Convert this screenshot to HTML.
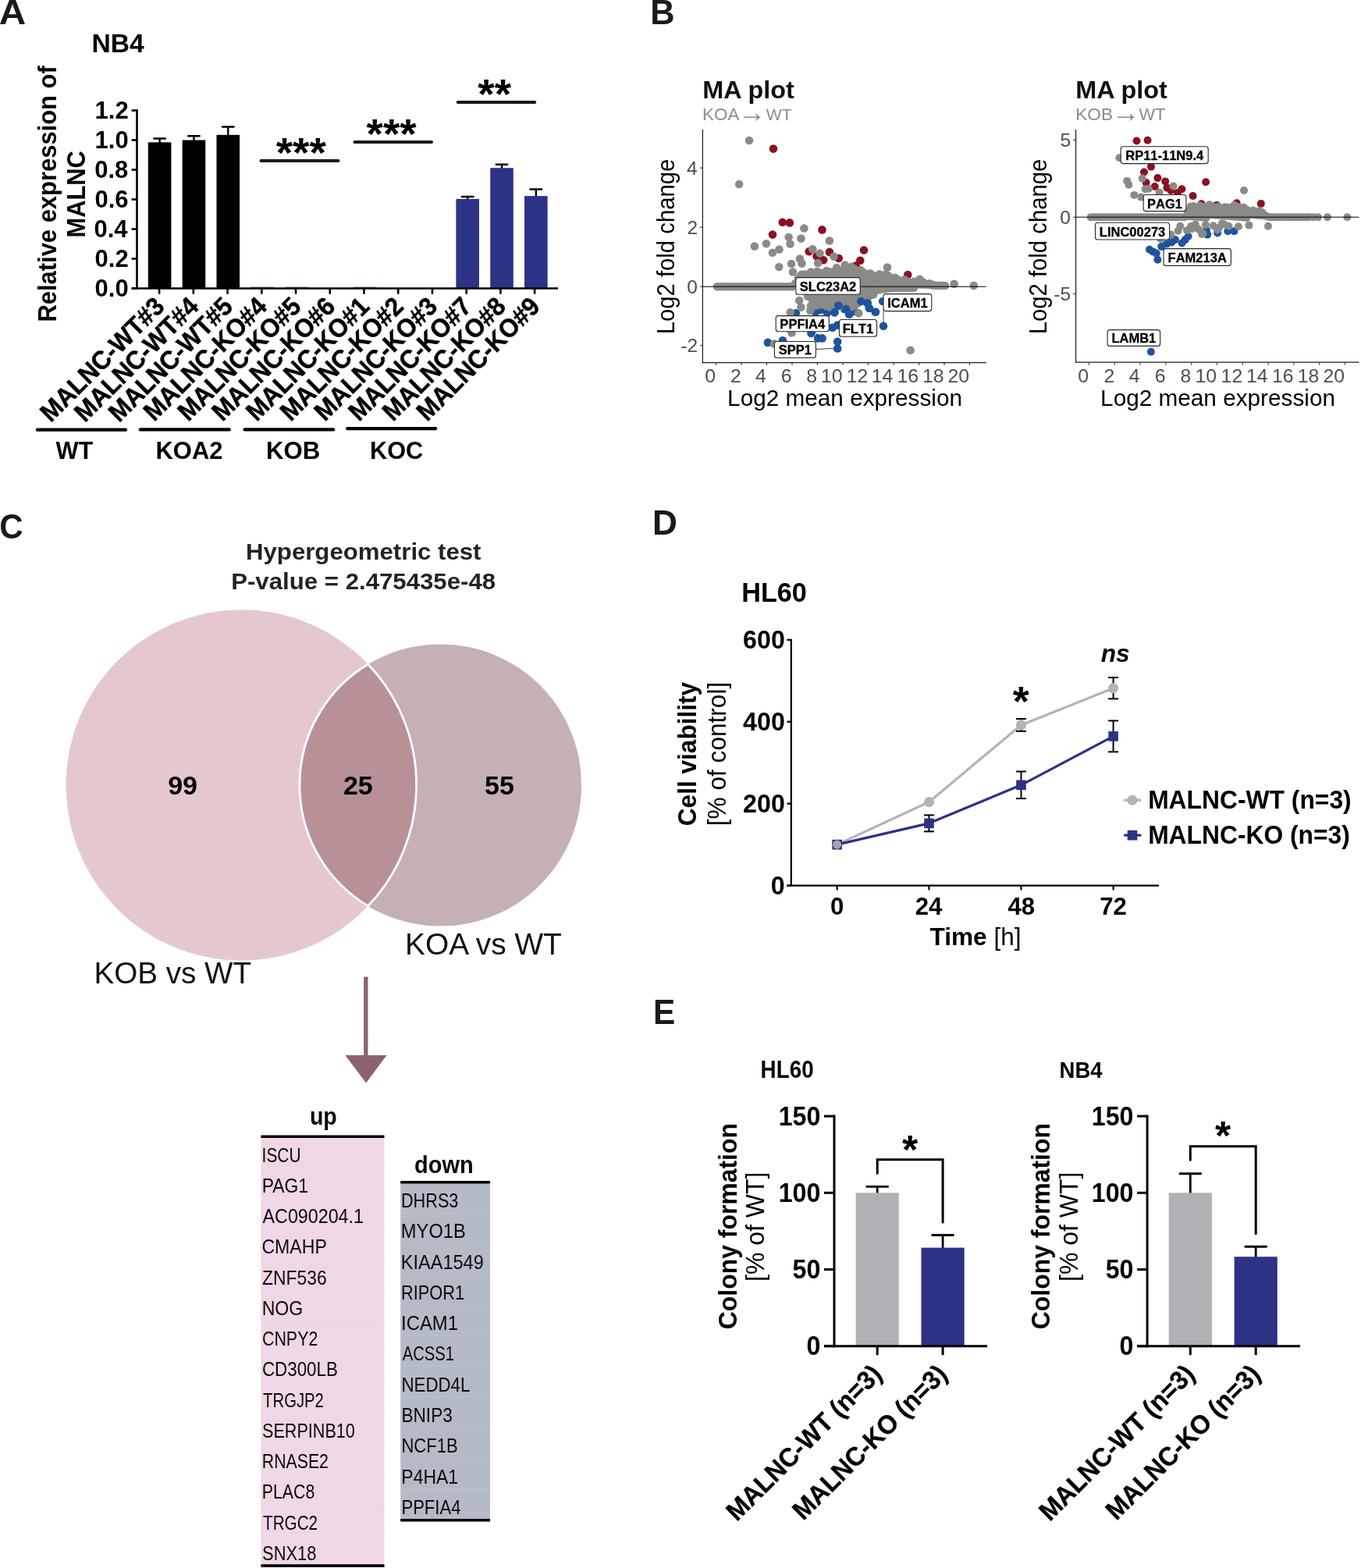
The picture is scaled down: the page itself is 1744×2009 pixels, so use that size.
<!DOCTYPE html>
<html lang="en">
<head>
<meta charset="utf-8">
<title>MALNC knockout figure</title>
<style>
html,body{margin:0;padding:0;background:#fff;}
body{width:1744px;height:2009px;overflow:hidden;}
svg{display:block;}
text{font-family:"Liberation Sans",sans-serif;}
</style>
</head>
<body>
<svg width="1744" height="2009" viewBox="0 0 1744 2009">
<rect x="0" y="0" width="1744" height="2009" fill="#ffffff"/>
<g id="panelA">
<text transform="translate(-1.19 31.1) scale(1.085 1.000)" font-size="44" font-weight="bold" fill="#1a1a1a">A</text>
<text transform="translate(117.41 66.6) scale(1.000 1.010)" font-size="33.73" font-weight="bold" fill="#000">NB4</text>
<line x1="175.5" y1="140.2" x2="175.5" y2="370.8" stroke="#000" stroke-width="2.6"/>
<line x1="168.6" y1="369.5" x2="175.5" y2="369.5" stroke="#000" stroke-width="2.6"/>
<text transform="translate(121.55 379.5) scale(1.000 1.040)" font-size="31" font-weight="bold" fill="#000">0.0</text>
<line x1="168.6" y1="331.5" x2="175.5" y2="331.5" stroke="#000" stroke-width="2.6"/>
<text transform="translate(121.55 341.5) scale(1.000 1.040)" font-size="31" font-weight="bold" fill="#000">0.2</text>
<line x1="168.6" y1="293.5" x2="175.5" y2="293.5" stroke="#000" stroke-width="2.6"/>
<text transform="translate(120.47 303.5) scale(1.000 1.040)" font-size="31" font-weight="bold" fill="#000">0.4</text>
<line x1="168.6" y1="255.5" x2="175.5" y2="255.5" stroke="#000" stroke-width="2.6"/>
<text transform="translate(121.4 265.5) scale(1.000 1.040)" font-size="31" font-weight="bold" fill="#000">0.6</text>
<line x1="168.6" y1="217.5" x2="175.5" y2="217.5" stroke="#000" stroke-width="2.6"/>
<text transform="translate(121.24 227.5) scale(1.000 1.040)" font-size="31" font-weight="bold" fill="#000">0.8</text>
<line x1="168.6" y1="179.5" x2="175.5" y2="179.5" stroke="#000" stroke-width="2.6"/>
<text transform="translate(121.55 189.5) scale(1.000 1.040)" font-size="31" font-weight="bold" fill="#000">1.0</text>
<line x1="168.6" y1="141.5" x2="175.5" y2="141.5" stroke="#000" stroke-width="2.6"/>
<text transform="translate(121.55 151.5) scale(1.000 1.040)" font-size="31" font-weight="bold" fill="#000">1.2</text>
<line x1="204.6" y1="177.6" x2="204.6" y2="183.35" stroke="#000" stroke-width="2.4"/>
<line x1="197.4" y1="177.6" x2="211.8" y2="177.6" stroke="#000" stroke-width="2.5" stroke-linecap="round"/>
<rect x="189.8" y="182.35" width="29.6" height="187.15" fill="#000"/>
<line x1="248.44" y1="174.18" x2="248.44" y2="180.5" stroke="#000" stroke-width="2.4"/>
<line x1="241.24" y1="174.18" x2="255.64" y2="174.18" stroke="#000" stroke-width="2.5" stroke-linecap="round"/>
<rect x="233.64" y="179.5" width="29.6" height="190" fill="#000"/>
<line x1="292.28" y1="162.4" x2="292.28" y2="173.85" stroke="#000" stroke-width="2.4"/>
<line x1="285.08" y1="162.4" x2="299.48" y2="162.4" stroke="#000" stroke-width="2.5" stroke-linecap="round"/>
<rect x="277.48" y="172.85" width="29.6" height="196.65" fill="#000"/>
<rect x="321.32" y="367.6" width="29.6" height="1" fill="#2d3287" opacity="0.8"/>
<rect x="365.16" y="367.6" width="29.6" height="1" fill="#2d3287" opacity="0.8"/>
<rect x="452.84" y="367.6" width="29.6" height="1" fill="#2d3287" opacity="0.8"/>
<line x1="599.16" y1="251.89" x2="599.16" y2="255.93" stroke="#000" stroke-width="2.4"/>
<line x1="591.96" y1="251.89" x2="606.36" y2="251.89" stroke="#000" stroke-width="2.5" stroke-linecap="round"/>
<rect x="584.36" y="254.93" width="29.6" height="114.57" fill="#2d3287"/>
<line x1="643" y1="210.66" x2="643" y2="216.22" stroke="#000" stroke-width="2.4"/>
<line x1="635.8" y1="210.66" x2="650.2" y2="210.66" stroke="#000" stroke-width="2.5" stroke-linecap="round"/>
<rect x="628.2" y="215.22" width="29.6" height="154.28" fill="#2d3287"/>
<line x1="686.84" y1="242.39" x2="686.84" y2="252.13" stroke="#000" stroke-width="2.4"/>
<line x1="679.64" y1="242.39" x2="694.04" y2="242.39" stroke="#000" stroke-width="2.5" stroke-linecap="round"/>
<rect x="672.04" y="251.13" width="29.6" height="118.37" fill="#2d3287"/>
<line x1="204.1" y1="369.5" x2="204.1" y2="376.7" stroke="#000" stroke-width="2.6"/>
<line x1="247.83" y1="369.5" x2="247.83" y2="376.7" stroke="#000" stroke-width="2.6"/>
<line x1="291.56" y1="369.5" x2="291.56" y2="376.7" stroke="#000" stroke-width="2.6"/>
<line x1="335.29" y1="369.5" x2="335.29" y2="376.7" stroke="#000" stroke-width="2.6"/>
<line x1="379.02" y1="369.5" x2="379.02" y2="376.7" stroke="#000" stroke-width="2.6"/>
<line x1="422.75" y1="369.5" x2="422.75" y2="376.7" stroke="#000" stroke-width="2.6"/>
<line x1="466.48" y1="369.5" x2="466.48" y2="376.7" stroke="#000" stroke-width="2.6"/>
<line x1="510.21" y1="369.5" x2="510.21" y2="376.7" stroke="#000" stroke-width="2.6"/>
<line x1="553.94" y1="369.5" x2="553.94" y2="376.7" stroke="#000" stroke-width="2.6"/>
<line x1="597.67" y1="369.5" x2="597.67" y2="376.7" stroke="#000" stroke-width="2.6"/>
<line x1="641.4" y1="369.5" x2="641.4" y2="376.7" stroke="#000" stroke-width="2.6"/>
<line x1="685.13" y1="369.5" x2="685.13" y2="376.7" stroke="#000" stroke-width="2.6"/>
<line x1="168.6" y1="369.5" x2="715" y2="369.5" stroke="#000" stroke-width="2.6"/>
<line x1="334.5" y1="206" x2="433.5" y2="206" stroke="#1a1a1a" stroke-width="4" stroke-linecap="round"/>
<text transform="translate(353.72 214) scale(1.000 0.985)" font-size="55" font-weight="bold" fill="#000">***</text>
<line x1="454.5" y1="182.1" x2="553" y2="182.1" stroke="#1a1a1a" stroke-width="4" stroke-linecap="round"/>
<text transform="translate(469.57 190.1) scale(1.000 0.985)" font-size="55" font-weight="bold" fill="#000">***</text>
<line x1="586.7" y1="131.1" x2="685.3" y2="131.1" stroke="#1a1a1a" stroke-width="4" stroke-linecap="round"/>
<text transform="translate(612.25 139.1) scale(1.000 0.985)" font-size="55" font-weight="bold" fill="#000">**</text>
<text transform="translate(212.7 394.6) rotate(-45) scale(1.000 1.050)" font-size="31.6" font-weight="bold" text-anchor="end" fill="#000" stroke="#000" stroke-width="0.45">MALNC-WT#3</text>
<text transform="translate(256.43 394.6) rotate(-45) scale(1.000 1.050)" font-size="31.6" font-weight="bold" text-anchor="end" fill="#000" stroke="#000" stroke-width="0.45">MALNC-WT#4</text>
<text transform="translate(300.16 394.6) rotate(-45) scale(1.000 1.050)" font-size="31.6" font-weight="bold" text-anchor="end" fill="#000" stroke="#000" stroke-width="0.45">MALNC-WT#5</text>
<text transform="translate(343.89 394.6) rotate(-45) scale(1.000 1.050)" font-size="31.6" font-weight="bold" text-anchor="end" fill="#000" stroke="#000" stroke-width="0.45">MALNC-KO#4</text>
<text transform="translate(387.62 394.6) rotate(-45) scale(1.000 1.050)" font-size="31.6" font-weight="bold" text-anchor="end" fill="#000" stroke="#000" stroke-width="0.45">MALNC-KO#5</text>
<text transform="translate(431.35 394.6) rotate(-45) scale(1.000 1.050)" font-size="31.6" font-weight="bold" text-anchor="end" fill="#000" stroke="#000" stroke-width="0.45">MALNC-KO#6</text>
<text transform="translate(475.08 394.6) rotate(-45) scale(1.000 1.050)" font-size="31.6" font-weight="bold" text-anchor="end" fill="#000" stroke="#000" stroke-width="0.45">MALNC-KO#1</text>
<text transform="translate(518.81 394.6) rotate(-45) scale(1.000 1.050)" font-size="31.6" font-weight="bold" text-anchor="end" fill="#000" stroke="#000" stroke-width="0.45">MALNC-KO#2</text>
<text transform="translate(562.54 394.6) rotate(-45) scale(1.000 1.050)" font-size="31.6" font-weight="bold" text-anchor="end" fill="#000" stroke="#000" stroke-width="0.45">MALNC-KO#3</text>
<text transform="translate(606.27 394.6) rotate(-45) scale(1.000 1.050)" font-size="31.6" font-weight="bold" text-anchor="end" fill="#000" stroke="#000" stroke-width="0.45">MALNC-KO#7</text>
<text transform="translate(650 394.6) rotate(-45) scale(1.000 1.050)" font-size="31.6" font-weight="bold" text-anchor="end" fill="#000" stroke="#000" stroke-width="0.45">MALNC-KO#8</text>
<text transform="translate(693.73 394.6) rotate(-45) scale(1.000 1.050)" font-size="31.6" font-weight="bold" text-anchor="end" fill="#000" stroke="#000" stroke-width="0.45">MALNC-KO#9</text>
<line x1="47.8" y1="550.7" x2="161" y2="550.7" stroke="#000" stroke-width="4.2" stroke-linecap="round"/>
<line x1="179.8" y1="550.4" x2="293.8" y2="550.4" stroke="#000" stroke-width="4.2" stroke-linecap="round"/>
<line x1="313.5" y1="550.4" x2="427.2" y2="550.4" stroke="#000" stroke-width="4.2" stroke-linecap="round"/>
<line x1="445" y1="549.1" x2="558.2" y2="549.1" stroke="#000" stroke-width="4.2" stroke-linecap="round"/>
<text transform="translate(71.5 587.6) scale(1.000 1.035)" font-size="30.74" font-weight="bold" fill="#000">WT</text>
<text transform="translate(199.49 587.6) scale(1.000 1.035)" font-size="30.97" font-weight="bold" fill="#000">KOA2</text>
<text transform="translate(340.97 587.6) scale(1.000 1.035)" font-size="31.18" font-weight="bold" fill="#000">KOB</text>
<text transform="translate(474 587.6) scale(1.000 1.035)" font-size="30.7" font-weight="bold" fill="#000">KOC</text>
<text transform="translate(71.6 412.61) rotate(-90) scale(1.000 1.050)" font-size="30.94" font-weight="bold" fill="#000">Relative expression of</text>
<text transform="translate(108.6 304.5) rotate(-90) scale(1.000 1.090)" font-size="30.82" font-weight="bold" fill="#000">MALNC</text>
</g>
<g id="panelB">
<text transform="translate(833.3 31.05) scale(0.985 1.000)" font-size="44" font-weight="bold" fill="#1a1a1a">B</text>
<text transform="translate(900.19 126) scale(1.000 0.950)" font-size="32.42" font-weight="bold" fill="#111">MA plot</text>
<text transform="translate(900.11 154.3) scale(1.000 0.980)" font-size="22.41" fill="#8c8c8c">KOA</text>
<text transform="translate(945.72 156.2)" font-size="36" fill="#8c8c8c">→</text>
<text transform="translate(981.69 154.3) scale(1.000 0.980)" font-size="21.24" fill="#8c8c8c">WT</text>
<line x1="900.4" y1="166" x2="900.4" y2="465.2" stroke="#1a1a1a" stroke-width="1.2"/>
<line x1="899.8" y1="464.6" x2="1263.5" y2="464.6" stroke="#1a1a1a" stroke-width="1.2"/>
<line x1="917.5" y1="464.6" x2="917.5" y2="468" stroke="#333" stroke-width="1.1"/>
<text transform="translate(903.2 490)" font-size="24.8" fill="#4d4d4d">0</text>
<line x1="950" y1="464.6" x2="950" y2="468" stroke="#333" stroke-width="1.1"/>
<text transform="translate(936.08 490)" font-size="24.8" fill="#4d4d4d">2</text>
<line x1="982.5" y1="464.6" x2="982.5" y2="468" stroke="#333" stroke-width="1.1"/>
<text transform="translate(968.08 490)" font-size="24.8" fill="#4d4d4d">4</text>
<line x1="1015" y1="464.6" x2="1015" y2="468" stroke="#333" stroke-width="1.1"/>
<text transform="translate(1000.83 490)" font-size="24.8" fill="#4d4d4d">6</text>
<line x1="1047.5" y1="464.6" x2="1047.5" y2="468" stroke="#333" stroke-width="1.1"/>
<text transform="translate(1033.33 490)" font-size="24.8" fill="#4d4d4d">8</text>
<line x1="1080" y1="464.6" x2="1080" y2="468" stroke="#333" stroke-width="1.1"/>
<text transform="translate(1051.94 490)" font-size="24.8" fill="#4d4d4d">10</text>
<line x1="1112.5" y1="464.6" x2="1112.5" y2="468" stroke="#333" stroke-width="1.1"/>
<text transform="translate(1084.81 490)" font-size="24.8" fill="#4d4d4d">12</text>
<line x1="1145" y1="464.6" x2="1145" y2="468" stroke="#333" stroke-width="1.1"/>
<text transform="translate(1116.82 490)" font-size="24.8" fill="#4d4d4d">14</text>
<line x1="1177.5" y1="464.6" x2="1177.5" y2="468" stroke="#333" stroke-width="1.1"/>
<text transform="translate(1149.56 490)" font-size="24.8" fill="#4d4d4d">16</text>
<line x1="1210" y1="464.6" x2="1210" y2="468" stroke="#333" stroke-width="1.1"/>
<text transform="translate(1182.06 490)" font-size="24.8" fill="#4d4d4d">18</text>
<line x1="1242.5" y1="464.6" x2="1242.5" y2="468" stroke="#333" stroke-width="1.1"/>
<text transform="translate(1214.44 490)" font-size="24.8" fill="#4d4d4d">20</text>
<line x1="897" y1="215.2" x2="900.4" y2="215.2" stroke="#333" stroke-width="1.1"/>
<text transform="translate(880.04 223.8)" font-size="24.5" fill="#4d4d4d">4</text>
<line x1="897" y1="291.2" x2="900.4" y2="291.2" stroke="#333" stroke-width="1.1"/>
<text transform="translate(880.53 299.8)" font-size="24.5" fill="#4d4d4d">2</text>
<line x1="897" y1="367.2" x2="900.4" y2="367.2" stroke="#333" stroke-width="1.1"/>
<text transform="translate(880.16 375.8)" font-size="24.5" fill="#4d4d4d">0</text>
<line x1="897" y1="442.6" x2="900.4" y2="442.6" stroke="#333" stroke-width="1.1"/>
<text transform="translate(872.32 451.2)" font-size="24.5" fill="#4d4d4d">-2</text>
<text transform="translate(932.12 520)" font-size="29.74" fill="#000">Log2 mean expression</text>
<text transform="translate(863.8 428.34) rotate(-90) scale(1.000 1.040)" font-size="29.29" fill="#000">Log2 fold change</text>
<circle cx="991" cy="190.6" r="5.3" fill="#8b1221"/>
<circle cx="1002.75" cy="284.75" r="5.3" fill="#8b1221"/>
<circle cx="1011.9" cy="285.4" r="5.3" fill="#8b1221"/>
<circle cx="990" cy="300.6" r="5.3" fill="#8b1221"/>
<circle cx="1053.5" cy="294.4" r="5.3" fill="#8b1221"/>
<circle cx="1036.7" cy="322.3" r="5.3" fill="#8b1221"/>
<circle cx="1046.5" cy="328.3" r="5.3" fill="#8b1221"/>
<circle cx="1055.2" cy="333.2" r="5.3" fill="#8b1221"/>
<circle cx="1062.9" cy="322.9" r="5.3" fill="#8b1221"/>
<circle cx="1074.8" cy="331" r="5.3" fill="#8b1221"/>
<circle cx="1107" cy="320.5" r="5.3" fill="#8b1221"/>
<circle cx="1102.3" cy="333.8" r="5.3" fill="#8b1221"/>
<circle cx="1096.5" cy="340.5" r="5.3" fill="#8b1221"/>
<circle cx="1163.3" cy="352.1" r="5.3" fill="#8b1221"/>
<circle cx="1090" cy="345" r="5.3" fill="#8b1221"/>
<circle cx="1084" cy="347" r="5.3" fill="#8b1221"/>
<circle cx="1019.8" cy="401.3" r="5.3" fill="#1f539e"/>
<circle cx="1051.4" cy="397" r="5.3" fill="#1f539e"/>
<circle cx="1053.6" cy="390.4" r="5.3" fill="#1f539e"/>
<circle cx="1069.4" cy="400.2" r="5.3" fill="#1f539e"/>
<circle cx="1074.3" cy="390.4" r="5.3" fill="#1f539e"/>
<circle cx="1084" cy="395.9" r="5.3" fill="#1f539e"/>
<circle cx="1066.7" cy="419.8" r="5.3" fill="#1f539e"/>
<circle cx="1073.2" cy="416.6" r="5.3" fill="#1f539e"/>
<circle cx="1039.4" cy="426.9" r="5.3" fill="#1f539e"/>
<circle cx="1048.1" cy="433.4" r="5.3" fill="#1f539e"/>
<circle cx="1053.6" cy="433.4" r="5.3" fill="#1f539e"/>
<circle cx="1073.2" cy="437.8" r="5.3" fill="#1f539e"/>
<circle cx="1073.2" cy="446.5" r="5.3" fill="#1f539e"/>
<circle cx="983.9" cy="438.9" r="5.3" fill="#1f539e"/>
<circle cx="1003" cy="436.2" r="5.3" fill="#1f539e"/>
<circle cx="1103.4" cy="386" r="5.3" fill="#1f539e"/>
<circle cx="1111.6" cy="388.2" r="5.3" fill="#1f539e"/>
<circle cx="1113.8" cy="394.8" r="5.3" fill="#1f539e"/>
<circle cx="1121.9" cy="399.7" r="5.3" fill="#1f539e"/>
<circle cx="1131.2" cy="386" r="5.3" fill="#1f539e"/>
<circle cx="1132" cy="417.7" r="5.3" fill="#1f539e"/>
<circle cx="1088.2" cy="402.4" r="5.3" fill="#1f539e"/>
<circle cx="1082" cy="396" r="5.3" fill="#1f539e"/>
<circle cx="1095" cy="399" r="5.3" fill="#1f539e"/>
<circle cx="1060" cy="401" r="5.3" fill="#1f539e"/>
<circle cx="1045" cy="400" r="5.3" fill="#1f539e"/>
<polygon points="919,367.1 1017,367.1 1022,354.3 1030,350.3 1040,347.8 1050,348.8 1060,347.3 1070,346.3 1080,343.3 1090,342.3 1100,345.3 1110,349.3 1120,351.3 1130,350.8 1140,353.3 1150,357.3 1160,358.3 1170,360.3 1180,359.8 1190,363.3 1200,365.3 1213,366.8 1213,365.2 1200,366.2 1180,367.2 1160,368.7 1150,369.7 1140,371.2 1130,373.2 1120,376.2 1110,380.2 1103,385.7 1097,391.7 1090,395.2 1080,395.7 1070,394.7 1064,393.2 1058,391.2 1052,390.2 1045,392.7 1038,393.7 1034,377.7 1030,368.2 1017,367.4 919,367.4" fill="#8a8a86"/>
<circle cx="919" cy="367.25" r="5.3" fill="#8a8a86"/>
<circle cx="923" cy="367.25" r="5.3" fill="#8a8a86"/>
<circle cx="927" cy="367.25" r="5.3" fill="#8a8a86"/>
<circle cx="931" cy="367.25" r="5.3" fill="#8a8a86"/>
<circle cx="935" cy="367.25" r="5.3" fill="#8a8a86"/>
<circle cx="939" cy="367.25" r="5.3" fill="#8a8a86"/>
<circle cx="943" cy="367.25" r="5.3" fill="#8a8a86"/>
<circle cx="947" cy="367.25" r="5.3" fill="#8a8a86"/>
<circle cx="951" cy="367.25" r="5.3" fill="#8a8a86"/>
<circle cx="955" cy="367.25" r="5.3" fill="#8a8a86"/>
<circle cx="959" cy="367.25" r="5.3" fill="#8a8a86"/>
<circle cx="963" cy="367.25" r="5.3" fill="#8a8a86"/>
<circle cx="967" cy="367.25" r="5.3" fill="#8a8a86"/>
<circle cx="971" cy="367.25" r="5.3" fill="#8a8a86"/>
<circle cx="975" cy="367.25" r="5.3" fill="#8a8a86"/>
<circle cx="979" cy="367.25" r="5.3" fill="#8a8a86"/>
<circle cx="983" cy="367.25" r="5.3" fill="#8a8a86"/>
<circle cx="987" cy="367.25" r="5.3" fill="#8a8a86"/>
<circle cx="991" cy="367.25" r="5.3" fill="#8a8a86"/>
<circle cx="995" cy="367.25" r="5.3" fill="#8a8a86"/>
<circle cx="999" cy="367.25" r="5.3" fill="#8a8a86"/>
<circle cx="1003" cy="367.25" r="5.3" fill="#8a8a86"/>
<circle cx="1007" cy="367.25" r="5.3" fill="#8a8a86"/>
<circle cx="1011" cy="367.25" r="5.3" fill="#8a8a86"/>
<circle cx="1015" cy="367.25" r="5.3" fill="#8a8a86"/>
<circle cx="1019" cy="363.18" r="5.3" fill="#8a8a86"/>
<circle cx="1019" cy="364.28" r="5.3" fill="#8a8a86"/>
<circle cx="1023" cy="356.52" r="5.3" fill="#8a8a86"/>
<circle cx="1023" cy="364.87" r="5.3" fill="#8a8a86"/>
<circle cx="1027" cy="351.86" r="5.3" fill="#8a8a86"/>
<circle cx="1027" cy="365.46" r="5.3" fill="#8a8a86"/>
<circle cx="1031" cy="351.63" r="5.3" fill="#8a8a86"/>
<circle cx="1031" cy="368.36" r="5.3" fill="#8a8a86"/>
<circle cx="1035" cy="352.15" r="5.3" fill="#8a8a86"/>
<circle cx="1035" cy="379.82" r="5.3" fill="#8a8a86"/>
<circle cx="1039" cy="348.49" r="5.3" fill="#8a8a86"/>
<circle cx="1039" cy="392.02" r="5.3" fill="#8a8a86"/>
<circle cx="1043" cy="350.06" r="5.3" fill="#8a8a86"/>
<circle cx="1043" cy="391.79" r="5.3" fill="#8a8a86"/>
<circle cx="1047" cy="347.8" r="5.3" fill="#8a8a86"/>
<circle cx="1047" cy="391.13" r="5.3" fill="#8a8a86"/>
<circle cx="1051" cy="349.47" r="5.3" fill="#8a8a86"/>
<circle cx="1051" cy="390.04" r="5.3" fill="#8a8a86"/>
<circle cx="1055" cy="350.39" r="5.3" fill="#8a8a86"/>
<circle cx="1055" cy="390.52" r="5.3" fill="#8a8a86"/>
<circle cx="1059" cy="347.13" r="5.3" fill="#8a8a86"/>
<circle cx="1059" cy="391.69" r="5.3" fill="#8a8a86"/>
<circle cx="1063" cy="348.2" r="5.3" fill="#8a8a86"/>
<circle cx="1063" cy="393.37" r="5.3" fill="#8a8a86"/>
<circle cx="1067" cy="349.32" r="5.3" fill="#8a8a86"/>
<circle cx="1067" cy="394.79" r="5.3" fill="#8a8a86"/>
<circle cx="1071" cy="346.06" r="5.3" fill="#8a8a86"/>
<circle cx="1071" cy="391.56" r="5.3" fill="#8a8a86"/>
<circle cx="1075" cy="346.38" r="5.3" fill="#8a8a86"/>
<circle cx="1075" cy="392.3" r="5.3" fill="#8a8a86"/>
<circle cx="1079" cy="346.7" r="5.3" fill="#8a8a86"/>
<circle cx="1079" cy="393.04" r="5.3" fill="#8a8a86"/>
<circle cx="1083" cy="343.44" r="5.3" fill="#8a8a86"/>
<circle cx="1083" cy="393.33" r="5.3" fill="#8a8a86"/>
<circle cx="1087" cy="344.56" r="5.3" fill="#8a8a86"/>
<circle cx="1087" cy="393.47" r="5.3" fill="#8a8a86"/>
<circle cx="1091" cy="341.9" r="5.3" fill="#8a8a86"/>
<circle cx="1091" cy="393.16" r="5.3" fill="#8a8a86"/>
<circle cx="1095" cy="344.62" r="5.3" fill="#8a8a86"/>
<circle cx="1095" cy="391.5" r="5.3" fill="#8a8a86"/>
<circle cx="1099" cy="347.34" r="5.3" fill="#8a8a86"/>
<circle cx="1099" cy="388.84" r="5.3" fill="#8a8a86"/>
<circle cx="1103" cy="346.18" r="5.3" fill="#8a8a86"/>
<circle cx="1103" cy="385.18" r="5.3" fill="#8a8a86"/>
<circle cx="1107" cy="349.3" r="5.3" fill="#8a8a86"/>
<circle cx="1107" cy="382.38" r="5.3" fill="#8a8a86"/>
<circle cx="1111" cy="352.22" r="5.3" fill="#8a8a86"/>
<circle cx="1111" cy="379.96" r="5.3" fill="#8a8a86"/>
<circle cx="1115" cy="350.36" r="5.3" fill="#8a8a86"/>
<circle cx="1115" cy="378.7" r="5.3" fill="#8a8a86"/>
<circle cx="1119" cy="352.68" r="5.3" fill="#8a8a86"/>
<circle cx="1119" cy="377.44" r="5.3" fill="#8a8a86"/>
<circle cx="1123" cy="354.25" r="5.3" fill="#8a8a86"/>
<circle cx="1123" cy="372.06" r="5.3" fill="#8a8a86"/>
<circle cx="1127" cy="351.39" r="5.3" fill="#8a8a86"/>
<circle cx="1127" cy="371.2" r="5.3" fill="#8a8a86"/>
<circle cx="1131" cy="353.01" r="5.3" fill="#8a8a86"/>
<circle cx="1131" cy="370.44" r="5.3" fill="#8a8a86"/>
<circle cx="1135" cy="351.35" r="5.3" fill="#8a8a86"/>
<circle cx="1135" cy="369.98" r="5.3" fill="#8a8a86"/>
<circle cx="1139" cy="353.87" r="5.3" fill="#8a8a86"/>
<circle cx="1139" cy="369.52" r="5.3" fill="#8a8a86"/>
<circle cx="1143" cy="356.84" r="5.3" fill="#8a8a86"/>
<circle cx="1143" cy="369.21" r="5.3" fill="#8a8a86"/>
<circle cx="1147" cy="355.78" r="5.3" fill="#8a8a86"/>
<circle cx="1147" cy="368.95" r="5.3" fill="#8a8a86"/>
<circle cx="1151" cy="358.6" r="5.3" fill="#8a8a86"/>
<circle cx="1151" cy="368.74" r="5.3" fill="#8a8a86"/>
<circle cx="1155" cy="360.52" r="5.3" fill="#8a8a86"/>
<circle cx="1155" cy="368.68" r="5.3" fill="#8a8a86"/>
<circle cx="1159" cy="358.26" r="5.3" fill="#8a8a86"/>
<circle cx="1159" cy="368.62" r="5.3" fill="#8a8a86"/>
<circle cx="1163" cy="360.48" r="5.3" fill="#8a8a86"/>
<circle cx="1163" cy="368.63" r="5.3" fill="#8a8a86"/>
<circle cx="1167" cy="362.8" r="5.3" fill="#8a8a86"/>
<circle cx="1167" cy="368.68" r="5.3" fill="#8a8a86"/>
<circle cx="1171" cy="360.69" r="5.3" fill="#8a8a86"/>
<circle cx="1171" cy="368.72" r="5.3" fill="#8a8a86"/>
<circle cx="1175" cy="362.01" r="5.3" fill="#8a8a86"/>
<circle cx="1175" cy="364.33" r="5.3" fill="#8a8a86"/>
<circle cx="1179" cy="359.15" r="5.3" fill="#8a8a86"/>
<circle cx="1179" cy="364.38" r="5.3" fill="#8a8a86"/>
<circle cx="1183" cy="361.67" r="5.3" fill="#8a8a86"/>
<circle cx="1183" cy="364.49" r="5.3" fill="#8a8a86"/>
<circle cx="1187" cy="364.59" r="5.3" fill="#8a8a86"/>
<circle cx="1187" cy="364.63" r="5.3" fill="#8a8a86"/>
<circle cx="1191" cy="363.18" r="5.3" fill="#8a8a86"/>
<circle cx="1191" cy="364.77" r="5.3" fill="#8a8a86"/>
<circle cx="1195" cy="365.5" r="5.3" fill="#8a8a86"/>
<circle cx="1195" cy="364.91" r="5.3" fill="#8a8a86"/>
<circle cx="1199" cy="365.68" r="5.3" fill="#8a8a86"/>
<circle cx="1203" cy="365.81" r="5.3" fill="#8a8a86"/>
<circle cx="1207" cy="365.88" r="5.3" fill="#8a8a86"/>
<circle cx="1211" cy="365.96" r="5.3" fill="#8a8a86"/>
<circle cx="1103.4" cy="386" r="5.3" fill="#1f539e"/>
<circle cx="1111.6" cy="388.2" r="5.3" fill="#1f539e"/>
<circle cx="1113.8" cy="394.8" r="5.3" fill="#1f539e"/>
<circle cx="1121.9" cy="399.7" r="5.3" fill="#1f539e"/>
<circle cx="1069.4" cy="400.2" r="5.3" fill="#1f539e"/>
<circle cx="1084" cy="395.9" r="5.3" fill="#1f539e"/>
<circle cx="1088.2" cy="402.4" r="5.3" fill="#1f539e"/>
<circle cx="1074.3" cy="391.5" r="5.3" fill="#1f539e"/>
<circle cx="960" cy="180" r="5.3" fill="#8a8a86"/>
<circle cx="947.1" cy="236" r="5.3" fill="#8a8a86"/>
<circle cx="1030.4" cy="292.5" r="5.3" fill="#8a8a86"/>
<circle cx="1010.6" cy="304" r="5.3" fill="#8a8a86"/>
<circle cx="1012.5" cy="312.5" r="5.3" fill="#8a8a86"/>
<circle cx="1026.5" cy="305.6" r="5.3" fill="#8a8a86"/>
<circle cx="1062.9" cy="308.5" r="5.3" fill="#8a8a86"/>
<circle cx="966.9" cy="315.6" r="5.3" fill="#8a8a86"/>
<circle cx="981.9" cy="312.25" r="5.3" fill="#8a8a86"/>
<circle cx="998.5" cy="319.6" r="5.3" fill="#8a8a86"/>
<circle cx="990" cy="323.75" r="5.3" fill="#8a8a86"/>
<circle cx="1041.25" cy="319.2" r="5.3" fill="#8a8a86"/>
<circle cx="1050.6" cy="324.6" r="5.3" fill="#8a8a86"/>
<circle cx="1025" cy="331.5" r="5.3" fill="#8a8a86"/>
<circle cx="1068.5" cy="328.8" r="5.3" fill="#8a8a86"/>
<circle cx="1014.1" cy="338" r="5.3" fill="#8a8a86"/>
<circle cx="1048.1" cy="337" r="5.3" fill="#8a8a86"/>
<circle cx="998.3" cy="342" r="5.3" fill="#8a8a86"/>
<circle cx="1082.8" cy="339.5" r="5.3" fill="#8a8a86"/>
<circle cx="1027.5" cy="337.6" r="5.3" fill="#8a8a86"/>
<circle cx="1016" cy="348.5" r="5.3" fill="#8a8a86"/>
<circle cx="1072.1" cy="343" r="5.3" fill="#8a8a86"/>
<circle cx="1137" cy="342.5" r="5.3" fill="#8a8a86"/>
<circle cx="1178.6" cy="357.7" r="5.3" fill="#8a8a86"/>
<circle cx="1222.7" cy="363.7" r="5.3" fill="#8a8a86"/>
<circle cx="1247.8" cy="365.9" r="5.3" fill="#8a8a86"/>
<circle cx="1166.6" cy="448.7" r="5.3" fill="#8a8a86"/>
<circle cx="1100.2" cy="401.3" r="5.3" fill="#8a8a86"/>
<circle cx="1024.2" cy="385" r="5.3" fill="#8a8a86"/>
<circle cx="1026.4" cy="393.7" r="5.3" fill="#8a8a86"/>
<circle cx="1012.7" cy="400.2" r="5.3" fill="#8a8a86"/>
<circle cx="1038.3" cy="398" r="5.3" fill="#8a8a86"/>
<circle cx="1014.4" cy="426.4" r="5.3" fill="#8a8a86"/>
<circle cx="992" cy="440.5" r="5.3" fill="#8a8a86"/>
<line x1="900.4" y1="367.2" x2="1263.5" y2="367.2" stroke="#000" stroke-width="1"/>
<line x1="1132" y1="398" x2="1132" y2="413" stroke="#333" stroke-width="0.9"/>
<line x1="1043" y1="424.5" x2="1050" y2="432" stroke="#222" stroke-width="0.9"/>
<line x1="1045.4" y1="447.5" x2="1068.5" y2="446.3" stroke="#222" stroke-width="0.9"/>
<rect x="1019.8" y="355.6" width="82.5" height="21.7" rx="3" ry="3" fill="#fff" stroke="#262626" stroke-width="1.1"/>
<text transform="translate(1024.83 372.94)" font-size="16.5" font-weight="bold" fill="#000" stroke="#000" stroke-width="0.3" style="font-kerning:none">SLC23A2</text>
<rect x="1132" y="376.6" width="61.8" height="22" rx="3" ry="3" fill="#fff" stroke="#262626" stroke-width="1.1"/>
<text transform="translate(1137.23 394.09)" font-size="16.5" font-weight="bold" fill="#000" stroke="#000" stroke-width="0.3" style="font-kerning:none">ICAM1</text>
<rect x="994.2" y="404.6" width="68.1" height="20.1" rx="3" ry="3" fill="#fff" stroke="#262626" stroke-width="1.1"/>
<text transform="translate(999.37 421.14)" font-size="16.5" font-weight="bold" fill="#000" stroke="#000" stroke-width="0.3" style="font-kerning:none">PPFIA4</text>
<rect x="1075.4" y="409.5" width="48.2" height="21.8" rx="3" ry="3" fill="#fff" stroke="#262626" stroke-width="1.1"/>
<text transform="translate(1079.79 426.89)" font-size="16.5" font-weight="bold" fill="#000" stroke="#000" stroke-width="0.3" style="font-kerning:none">FLT1</text>
<rect x="992.4" y="437.5" width="53" height="21" rx="3" ry="3" fill="#fff" stroke="#262626" stroke-width="1.1"/>
<text transform="translate(997.8 454.49)" font-size="16.5" font-weight="bold" fill="#000" stroke="#000" stroke-width="0.3" style="font-kerning:none">SPP1</text>
<text transform="translate(1378.19 126) scale(1.000 0.950)" font-size="32.42" font-weight="bold" fill="#111">MA plot</text>
<text transform="translate(1378.19 154.3) scale(1.000 0.980)" font-size="22.68" fill="#8c8c8c">KOB</text>
<text transform="translate(1425.02 156.2)" font-size="36" fill="#8c8c8c">→</text>
<text transform="translate(1459.39 154.3) scale(1.000 0.980)" font-size="21.9" fill="#8c8c8c">WT</text>
<line x1="1378.6" y1="166" x2="1378.6" y2="464.8" stroke="#1a1a1a" stroke-width="1.2"/>
<line x1="1378" y1="464.2" x2="1741.5" y2="464.2" stroke="#1a1a1a" stroke-width="1.2"/>
<line x1="1395.5" y1="464.2" x2="1395.5" y2="467.6" stroke="#333" stroke-width="1.1"/>
<text transform="translate(1381.2 489.6)" font-size="24.8" fill="#4d4d4d">0</text>
<line x1="1428.3" y1="464.2" x2="1428.3" y2="467.6" stroke="#333" stroke-width="1.1"/>
<text transform="translate(1414.38 489.6)" font-size="24.8" fill="#4d4d4d">2</text>
<line x1="1461.1" y1="464.2" x2="1461.1" y2="467.6" stroke="#333" stroke-width="1.1"/>
<text transform="translate(1446.68 489.6)" font-size="24.8" fill="#4d4d4d">4</text>
<line x1="1493.9" y1="464.2" x2="1493.9" y2="467.6" stroke="#333" stroke-width="1.1"/>
<text transform="translate(1479.73 489.6)" font-size="24.8" fill="#4d4d4d">6</text>
<line x1="1526.7" y1="464.2" x2="1526.7" y2="467.6" stroke="#333" stroke-width="1.1"/>
<text transform="translate(1512.53 489.6)" font-size="24.8" fill="#4d4d4d">8</text>
<line x1="1559.5" y1="464.2" x2="1559.5" y2="467.6" stroke="#333" stroke-width="1.1"/>
<text transform="translate(1531.44 489.6)" font-size="24.8" fill="#4d4d4d">10</text>
<line x1="1592.3" y1="464.2" x2="1592.3" y2="467.6" stroke="#333" stroke-width="1.1"/>
<text transform="translate(1564.61 489.6)" font-size="24.8" fill="#4d4d4d">12</text>
<line x1="1625.1" y1="464.2" x2="1625.1" y2="467.6" stroke="#333" stroke-width="1.1"/>
<text transform="translate(1596.92 489.6)" font-size="24.8" fill="#4d4d4d">14</text>
<line x1="1657.9" y1="464.2" x2="1657.9" y2="467.6" stroke="#333" stroke-width="1.1"/>
<text transform="translate(1629.96 489.6)" font-size="24.8" fill="#4d4d4d">16</text>
<line x1="1690.7" y1="464.2" x2="1690.7" y2="467.6" stroke="#333" stroke-width="1.1"/>
<text transform="translate(1662.76 489.6)" font-size="24.8" fill="#4d4d4d">18</text>
<line x1="1723.5" y1="464.2" x2="1723.5" y2="467.6" stroke="#333" stroke-width="1.1"/>
<text transform="translate(1695.44 489.6)" font-size="24.8" fill="#4d4d4d">20</text>
<line x1="1375.2" y1="179.3" x2="1378.6" y2="179.3" stroke="#333" stroke-width="1.1"/>
<text transform="translate(1358.48 187.9)" font-size="24.5" fill="#4d4d4d">5</text>
<line x1="1375.2" y1="278.2" x2="1378.6" y2="278.2" stroke="#333" stroke-width="1.1"/>
<text transform="translate(1358.36 286.8)" font-size="24.5" fill="#4d4d4d">0</text>
<line x1="1375.2" y1="376.4" x2="1378.6" y2="376.4" stroke="#333" stroke-width="1.1"/>
<text transform="translate(1350.27 385)" font-size="24.5" fill="#4d4d4d">-5</text>
<text transform="translate(1410.12 520)" font-size="29.74" fill="#000">Log2 mean expression</text>
<text transform="translate(1340.6 428.34) rotate(-90) scale(1.000 1.040)" font-size="29.29" fill="#000">Log2 fold change</text>
<circle cx="1456.5" cy="180.5" r="5" fill="#8b1221"/>
<circle cx="1470.6" cy="179.8" r="5" fill="#8b1221"/>
<circle cx="1475" cy="213.6" r="5" fill="#8b1221"/>
<circle cx="1466" cy="220.5" r="5" fill="#8b1221"/>
<circle cx="1483.4" cy="228.1" r="5" fill="#8b1221"/>
<circle cx="1468.7" cy="234.1" r="5" fill="#8b1221"/>
<circle cx="1493.2" cy="232.4" r="5" fill="#8b1221"/>
<circle cx="1479.8" cy="239" r="5" fill="#8b1221"/>
<circle cx="1495.4" cy="240.6" r="5" fill="#8b1221"/>
<circle cx="1500.3" cy="243.9" r="5" fill="#8b1221"/>
<circle cx="1514.4" cy="242.2" r="5" fill="#8b1221"/>
<circle cx="1509" cy="247.1" r="5" fill="#8b1221"/>
<circle cx="1528.6" cy="251" r="5" fill="#8b1221"/>
<circle cx="1545.1" cy="233.2" r="5" fill="#8b1221"/>
<circle cx="1539.5" cy="261.3" r="5" fill="#8b1221"/>
<circle cx="1559.1" cy="262.9" r="5" fill="#8b1221"/>
<circle cx="1615.8" cy="260.9" r="5" fill="#8b1221"/>
<circle cx="1584.7" cy="260.3" r="5" fill="#8b1221"/>
<circle cx="1546" cy="295.2" r="5" fill="#1f539e"/>
<circle cx="1547.2" cy="300.6" r="5" fill="#1f539e"/>
<circle cx="1560.2" cy="298.4" r="5" fill="#1f539e"/>
<circle cx="1573.3" cy="296.3" r="5" fill="#1f539e"/>
<circle cx="1581.5" cy="296.3" r="5" fill="#1f539e"/>
<circle cx="1522.6" cy="302.8" r="5" fill="#1f539e"/>
<circle cx="1518.8" cy="307.1" r="5" fill="#1f539e"/>
<circle cx="1514.5" cy="311.5" r="5" fill="#1f539e"/>
<circle cx="1505.8" cy="307.1" r="5" fill="#1f539e"/>
<circle cx="1501.4" cy="310.4" r="5" fill="#1f539e"/>
<circle cx="1494.9" cy="312.6" r="5" fill="#1f539e"/>
<circle cx="1488.3" cy="315.9" r="5" fill="#1f539e"/>
<circle cx="1473" cy="319.7" r="5" fill="#1f539e"/>
<circle cx="1477.4" cy="322.4" r="5" fill="#1f539e"/>
<circle cx="1481.8" cy="324.6" r="5" fill="#1f539e"/>
<circle cx="1483.4" cy="332.8" r="5" fill="#1f539e"/>
<circle cx="1474.9" cy="450.8" r="5" fill="#1f539e"/>
<polygon points="1397.6,278.3 1519,278.3 1522,267 1530,263 1540,264 1550,262 1560,264 1570,266 1580,263 1590,264 1600,268 1610,270 1620,272 1626,278.3 1679,278.3 1679,278.2 1626,278.2 1620,278.2 1610,278.2 1600,278.2 1590,278.2 1580,278.2 1570,278.2 1560,278.2 1550,278.2 1540,278.2 1530,278.2 1522,278.2 1519,278.2 1397.6,278.2" fill="#8a8a86"/>
<circle cx="1397.6" cy="278.25" r="5" fill="#8a8a86"/>
<circle cx="1401.6" cy="278.25" r="5" fill="#8a8a86"/>
<circle cx="1405.6" cy="278.25" r="5" fill="#8a8a86"/>
<circle cx="1409.6" cy="278.25" r="5" fill="#8a8a86"/>
<circle cx="1413.6" cy="278.25" r="5" fill="#8a8a86"/>
<circle cx="1417.6" cy="278.25" r="5" fill="#8a8a86"/>
<circle cx="1421.6" cy="278.25" r="5" fill="#8a8a86"/>
<circle cx="1425.6" cy="278.25" r="5" fill="#8a8a86"/>
<circle cx="1429.6" cy="278.25" r="5" fill="#8a8a86"/>
<circle cx="1433.6" cy="278.25" r="5" fill="#8a8a86"/>
<circle cx="1437.6" cy="278.25" r="5" fill="#8a8a86"/>
<circle cx="1441.6" cy="278.25" r="5" fill="#8a8a86"/>
<circle cx="1445.6" cy="278.25" r="5" fill="#8a8a86"/>
<circle cx="1449.6" cy="278.25" r="5" fill="#8a8a86"/>
<circle cx="1453.6" cy="278.25" r="5" fill="#8a8a86"/>
<circle cx="1457.6" cy="278.25" r="5" fill="#8a8a86"/>
<circle cx="1461.6" cy="278.25" r="5" fill="#8a8a86"/>
<circle cx="1465.6" cy="278.25" r="5" fill="#8a8a86"/>
<circle cx="1469.6" cy="278.25" r="5" fill="#8a8a86"/>
<circle cx="1473.6" cy="278.25" r="5" fill="#8a8a86"/>
<circle cx="1477.6" cy="278.25" r="5" fill="#8a8a86"/>
<circle cx="1481.6" cy="278.25" r="5" fill="#8a8a86"/>
<circle cx="1485.6" cy="278.25" r="5" fill="#8a8a86"/>
<circle cx="1489.6" cy="278.25" r="5" fill="#8a8a86"/>
<circle cx="1493.6" cy="278.25" r="5" fill="#8a8a86"/>
<circle cx="1497.6" cy="278.25" r="5" fill="#8a8a86"/>
<circle cx="1501.6" cy="278.25" r="5" fill="#8a8a86"/>
<circle cx="1505.6" cy="278.25" r="5" fill="#8a8a86"/>
<circle cx="1509.6" cy="278.25" r="5" fill="#8a8a86"/>
<circle cx="1513.6" cy="278.25" r="5" fill="#8a8a86"/>
<circle cx="1517.6" cy="278.25" r="5" fill="#8a8a86"/>
<circle cx="1521.6" cy="270.47" r="5" fill="#8a8a86"/>
<circle cx="1521.6" cy="277" r="5" fill="#8a8a86"/>
<circle cx="1525.6" cy="264.5" r="5" fill="#8a8a86"/>
<circle cx="1525.6" cy="277.34" r="5" fill="#8a8a86"/>
<circle cx="1529.6" cy="264.02" r="5" fill="#8a8a86"/>
<circle cx="1529.6" cy="277.68" r="5" fill="#8a8a86"/>
<circle cx="1533.6" cy="265.7" r="5" fill="#8a8a86"/>
<circle cx="1533.6" cy="278.02" r="5" fill="#8a8a86"/>
<circle cx="1537.6" cy="263.44" r="5" fill="#8a8a86"/>
<circle cx="1537.6" cy="278.36" r="5" fill="#8a8a86"/>
<circle cx="1541.6" cy="264.88" r="5" fill="#8a8a86"/>
<circle cx="1541.6" cy="278.7" r="5" fill="#8a8a86"/>
<circle cx="1545.6" cy="265.6" r="5" fill="#8a8a86"/>
<circle cx="1545.6" cy="279.04" r="5" fill="#8a8a86"/>
<circle cx="1549.6" cy="262.14" r="5" fill="#8a8a86"/>
<circle cx="1549.6" cy="274.96" r="5" fill="#8a8a86"/>
<circle cx="1553.6" cy="264.3" r="5" fill="#8a8a86"/>
<circle cx="1553.6" cy="275.3" r="5" fill="#8a8a86"/>
<circle cx="1557.6" cy="266.62" r="5" fill="#8a8a86"/>
<circle cx="1557.6" cy="275.64" r="5" fill="#8a8a86"/>
<circle cx="1561.6" cy="264.76" r="5" fill="#8a8a86"/>
<circle cx="1561.6" cy="275.98" r="5" fill="#8a8a86"/>
<circle cx="1565.6" cy="267.08" r="5" fill="#8a8a86"/>
<circle cx="1565.6" cy="276.32" r="5" fill="#8a8a86"/>
<circle cx="1569.6" cy="265.22" r="5" fill="#8a8a86"/>
<circle cx="1569.6" cy="276.66" r="5" fill="#8a8a86"/>
<circle cx="1573.6" cy="265.74" r="5" fill="#8a8a86"/>
<circle cx="1573.6" cy="277" r="5" fill="#8a8a86"/>
<circle cx="1577.6" cy="266.06" r="5" fill="#8a8a86"/>
<circle cx="1577.6" cy="277.34" r="5" fill="#8a8a86"/>
<circle cx="1581.6" cy="262.84" r="5" fill="#8a8a86"/>
<circle cx="1581.6" cy="277.68" r="5" fill="#8a8a86"/>
<circle cx="1585.6" cy="264.76" r="5" fill="#8a8a86"/>
<circle cx="1585.6" cy="278.02" r="5" fill="#8a8a86"/>
<circle cx="1589.6" cy="266.68" r="5" fill="#8a8a86"/>
<circle cx="1589.6" cy="278.36" r="5" fill="#8a8a86"/>
<circle cx="1593.6" cy="265.5" r="5" fill="#8a8a86"/>
<circle cx="1593.6" cy="278.7" r="5" fill="#8a8a86"/>
<circle cx="1597.6" cy="268.62" r="5" fill="#8a8a86"/>
<circle cx="1597.6" cy="279.04" r="5" fill="#8a8a86"/>
<circle cx="1601.6" cy="271.42" r="5" fill="#8a8a86"/>
<circle cx="1601.6" cy="274.96" r="5" fill="#8a8a86"/>
<circle cx="1605.6" cy="269.56" r="5" fill="#8a8a86"/>
<circle cx="1605.6" cy="275.3" r="5" fill="#8a8a86"/>
<circle cx="1609.6" cy="271.88" r="5" fill="#8a8a86"/>
<circle cx="1609.6" cy="275.64" r="5" fill="#8a8a86"/>
<circle cx="1613.6" cy="270.02" r="5" fill="#8a8a86"/>
<circle cx="1613.6" cy="275.98" r="5" fill="#8a8a86"/>
<circle cx="1617.6" cy="272.34" r="5" fill="#8a8a86"/>
<circle cx="1617.6" cy="276.32" r="5" fill="#8a8a86"/>
<circle cx="1621.6" cy="276.02" r="5" fill="#8a8a86"/>
<circle cx="1621.6" cy="276.66" r="5" fill="#8a8a86"/>
<circle cx="1625.6" cy="278.04" r="5" fill="#8a8a86"/>
<circle cx="1629.6" cy="278.25" r="5" fill="#8a8a86"/>
<circle cx="1633.6" cy="278.25" r="5" fill="#8a8a86"/>
<circle cx="1637.6" cy="278.25" r="5" fill="#8a8a86"/>
<circle cx="1641.6" cy="278.25" r="5" fill="#8a8a86"/>
<circle cx="1645.6" cy="278.25" r="5" fill="#8a8a86"/>
<circle cx="1649.6" cy="278.25" r="5" fill="#8a8a86"/>
<circle cx="1653.6" cy="278.25" r="5" fill="#8a8a86"/>
<circle cx="1657.6" cy="278.25" r="5" fill="#8a8a86"/>
<circle cx="1661.6" cy="278.25" r="5" fill="#8a8a86"/>
<circle cx="1665.6" cy="278.25" r="5" fill="#8a8a86"/>
<circle cx="1669.6" cy="278.25" r="5" fill="#8a8a86"/>
<circle cx="1673.6" cy="278.25" r="5" fill="#8a8a86"/>
<circle cx="1677.6" cy="278.25" r="5" fill="#8a8a86"/>
<circle cx="1434.4" cy="202.3" r="5" fill="#8a8a86"/>
<circle cx="1444.2" cy="231.9" r="5" fill="#8a8a86"/>
<circle cx="1446.4" cy="236.8" r="5" fill="#8a8a86"/>
<circle cx="1463.8" cy="228.6" r="5" fill="#8a8a86"/>
<circle cx="1503.5" cy="238.4" r="5" fill="#8a8a86"/>
<circle cx="1467.6" cy="242.2" r="5" fill="#8a8a86"/>
<circle cx="1472" cy="241.7" r="5" fill="#8a8a86"/>
<circle cx="1485.6" cy="246.6" r="5" fill="#8a8a86"/>
<circle cx="1453.4" cy="249.9" r="5" fill="#8a8a86"/>
<circle cx="1462.2" cy="252.6" r="5" fill="#8a8a86"/>
<circle cx="1594" cy="244" r="5" fill="#8a8a86"/>
<circle cx="1512.3" cy="289.7" r="5" fill="#8a8a86"/>
<circle cx="1509.6" cy="295.7" r="5" fill="#8a8a86"/>
<circle cx="1521" cy="295.2" r="5" fill="#8a8a86"/>
<circle cx="1531.9" cy="287.5" r="5" fill="#8a8a86"/>
<circle cx="1536.3" cy="294.1" r="5" fill="#8a8a86"/>
<circle cx="1540" cy="300" r="5" fill="#8a8a86"/>
<circle cx="1554.8" cy="289.2" r="5" fill="#8a8a86"/>
<circle cx="1561.9" cy="291.9" r="5" fill="#8a8a86"/>
<circle cx="1569" cy="287.5" r="5" fill="#8a8a86"/>
<circle cx="1574.4" cy="289.7" r="5" fill="#8a8a86"/>
<circle cx="1586.9" cy="290.3" r="5" fill="#8a8a86"/>
<circle cx="1600.5" cy="288.6" r="5" fill="#8a8a86"/>
<circle cx="1625" cy="289.7" r="5" fill="#8a8a86"/>
<circle cx="1487.2" cy="306" r="5" fill="#8a8a86"/>
<circle cx="1500.3" cy="300.6" r="5" fill="#8a8a86"/>
<circle cx="1526" cy="290" r="5" fill="#8a8a86"/>
<circle cx="1545" cy="288" r="5" fill="#8a8a86"/>
<circle cx="1527.6" cy="293.2" r="5" fill="#8a8a86"/>
<circle cx="1541.5" cy="299" r="5" fill="#8a8a86"/>
<circle cx="1560" cy="294.4" r="5" fill="#8a8a86"/>
<circle cx="1565.9" cy="286.2" r="5" fill="#8a8a86"/>
<circle cx="1683" cy="278.2" r="5" fill="#8a8a86"/>
<circle cx="1689" cy="278.2" r="5" fill="#8a8a86"/>
<circle cx="1701" cy="278.2" r="5" fill="#8a8a86"/>
<circle cx="1726.4" cy="278.2" r="5" fill="#8a8a86"/>
<line x1="1378.6" y1="278.2" x2="1741.5" y2="278.2" stroke="#000" stroke-width="1"/>
<rect x="1436.2" y="187.8" width="112" height="21.8" rx="3" ry="3" fill="#fff" stroke="#262626" stroke-width="1.1"/>
<text transform="translate(1442.21 205.19)" font-size="16.5" font-weight="bold" fill="#000" stroke="#000" stroke-width="0.3" style="font-kerning:none">RP11-11N9.4</text>
<rect x="1465.2" y="249.5" width="54.7" height="21.1" rx="3" ry="3" fill="#fff" stroke="#262626" stroke-width="1.1"/>
<text transform="translate(1470.08 266.54)" font-size="16.5" font-weight="bold" fill="#000" stroke="#000" stroke-width="0.3" style="font-kerning:none">PAG1</text>
<rect x="1403.5" y="285.3" width="95.1" height="21.7" rx="3" ry="3" fill="#fff" stroke="#262626" stroke-width="1.1"/>
<text transform="translate(1408.86 302.64)" font-size="16.5" font-weight="bold" fill="#000" stroke="#000" stroke-width="0.3" style="font-kerning:none">LINC00273</text>
<rect x="1491" y="318.6" width="86.4" height="21.8" rx="3" ry="3" fill="#fff" stroke="#262626" stroke-width="1.1"/>
<text transform="translate(1496.61 335.99)" font-size="16.5" font-weight="bold" fill="#000" stroke="#000" stroke-width="0.3" style="font-kerning:none">FAM213A</text>
<rect x="1419.1" y="422.6" width="67.5" height="20.8" rx="3" ry="3" fill="#fff" stroke="#262626" stroke-width="1.1"/>
<text transform="translate(1424.43 439.49)" font-size="16.5" font-weight="bold" fill="#000" stroke="#000" stroke-width="0.3" style="font-kerning:none">LAMB1</text>
</g>
<g id="panelC">
<text transform="translate(-0.82 689.5) scale(0.956 1.027)" font-size="44" font-weight="bold" fill="#1a1a1a">C</text>
<text transform="translate(314.97 716.7) scale(1.000 0.970)" font-size="31.2" font-weight="bold" fill="#262223">Hypergeometric test</text>
<text transform="translate(296.17 754.8) scale(1.000 0.970)" font-size="31.2" font-weight="bold" fill="#262223">P-value = 2.475435e-48</text>
<ellipse cx="309.1" cy="1005.9" rx="224.5" ry="224.6" fill="#e5c8ce"/>
<circle cx="564.5" cy="1006" r="180.6" fill="#c5b0b3"/>
<path d="M471.62 851.07 A224.5 224.5 0 0 1 471.62 1160.83 A180.6 180.6 0 0 1 471.62 851.07 Z" fill="#b89196" stroke="#ffffff" stroke-width="2.8" stroke-linejoin="round"/>
<text transform="translate(215.13 1018.2)" font-size="34" font-weight="bold" fill="#000">99</text>
<text transform="translate(439.96 1018.2)" font-size="34" font-weight="bold" fill="#000">25</text>
<text transform="translate(621.04 1018.2)" font-size="34" font-weight="bold" fill="#000">55</text>
<text transform="translate(519.09 1223.3) scale(1.000 1.020)" font-size="38.85" fill="#111">KOA vs WT</text>
<text transform="translate(120.51 1260.1) scale(1.000 1.020)" font-size="38.63" fill="#111">KOB vs WT</text>
<rect x="466.1" y="1251.5" width="5.4" height="101.5" fill="#8b6370"/>
<polygon points="442.4,1352 495.6,1352 469,1387.6" fill="#8b6370"/>
<rect x="334.4" y="1456.3" width="158.1" height="549.78" fill="#f0d7e5"/>
<line x1="334.4" y1="1495.57" x2="492.5" y2="1495.57" stroke="#f3deea" stroke-width="0.8"/>
<line x1="334.4" y1="1534.84" x2="492.5" y2="1534.84" stroke="#f3deea" stroke-width="0.8"/>
<line x1="334.4" y1="1574.11" x2="492.5" y2="1574.11" stroke="#f3deea" stroke-width="0.8"/>
<line x1="334.4" y1="1613.38" x2="492.5" y2="1613.38" stroke="#f3deea" stroke-width="0.8"/>
<line x1="334.4" y1="1652.65" x2="492.5" y2="1652.65" stroke="#f3deea" stroke-width="0.8"/>
<line x1="334.4" y1="1691.92" x2="492.5" y2="1691.92" stroke="#f3deea" stroke-width="0.8"/>
<line x1="334.4" y1="1731.19" x2="492.5" y2="1731.19" stroke="#f3deea" stroke-width="0.8"/>
<line x1="334.4" y1="1770.46" x2="492.5" y2="1770.46" stroke="#f3deea" stroke-width="0.8"/>
<line x1="334.4" y1="1809.73" x2="492.5" y2="1809.73" stroke="#f3deea" stroke-width="0.8"/>
<line x1="334.4" y1="1849" x2="492.5" y2="1849" stroke="#f3deea" stroke-width="0.8"/>
<line x1="334.4" y1="1888.27" x2="492.5" y2="1888.27" stroke="#f3deea" stroke-width="0.8"/>
<line x1="334.4" y1="1927.54" x2="492.5" y2="1927.54" stroke="#f3deea" stroke-width="0.8"/>
<line x1="334.4" y1="1966.81" x2="492.5" y2="1966.81" stroke="#f3deea" stroke-width="0.8"/>
<line x1="334.4" y1="1456.3" x2="492.5" y2="1456.3" stroke="#000" stroke-width="3.6"/>
<line x1="334.4" y1="2006.08" x2="492.5" y2="2006.08" stroke="#000" stroke-width="3.6"/>
<text transform="translate(335.62 1488.5) scale(0.804 1)" font-size="26" fill="#0a0a0a">ISCU</text>
<text transform="translate(335.67 1527.77) scale(0.881 1)" font-size="26" fill="#0a0a0a">PAG1</text>
<text transform="translate(336.6 1567.04) scale(0.895 1)" font-size="26" fill="#0a0a0a">AC090204.1</text>
<text transform="translate(335.44 1606.31) scale(0.889 1)" font-size="26" fill="#0a0a0a">CMAHP</text>
<text transform="translate(335.91 1645.58) scale(0.881 1)" font-size="26" fill="#0a0a0a">ZNF536</text>
<text transform="translate(335.65 1684.85) scale(0.890 1)" font-size="26" fill="#0a0a0a">NOG</text>
<text transform="translate(335.93 1724.12) scale(0.824 1)" font-size="26" fill="#0a0a0a">CNPY2</text>
<text transform="translate(335.88 1763.39) scale(0.861 1)" font-size="26" fill="#0a0a0a">CD300LB</text>
<text transform="translate(337.09 1802.66) scale(0.781 1)" font-size="26" fill="#0a0a0a">TRGJP2</text>
<text transform="translate(336.03 1841.93) scale(0.831 1)" font-size="26" fill="#0a0a0a">SERPINB10</text>
<text transform="translate(335.8 1881.2) scale(0.819 1)" font-size="26" fill="#0a0a0a">RNASE2</text>
<text transform="translate(335.79 1920.47) scale(0.820 1)" font-size="26" fill="#0a0a0a">PLAC8</text>
<text transform="translate(337.09 1959.74) scale(0.795 1)" font-size="26" fill="#0a0a0a">TRGC2</text>
<text transform="translate(336.01 1999.01) scale(0.844 1)" font-size="26" fill="#0a0a0a">SNX18</text>
<text transform="translate(396.89 1441.2) scale(0.969 1.05)" font-size="29.5" font-weight="bold" fill="#0a0a0a">up</text>
<rect x="513.2" y="1514.8" width="114.8" height="432.97" fill="#b4bbc7"/>
<line x1="513.2" y1="1554.07" x2="628" y2="1554.07" stroke="#bcc3ce" stroke-width="0.8"/>
<line x1="513.2" y1="1593.34" x2="628" y2="1593.34" stroke="#bcc3ce" stroke-width="0.8"/>
<line x1="513.2" y1="1632.61" x2="628" y2="1632.61" stroke="#bcc3ce" stroke-width="0.8"/>
<line x1="513.2" y1="1671.88" x2="628" y2="1671.88" stroke="#bcc3ce" stroke-width="0.8"/>
<line x1="513.2" y1="1711.15" x2="628" y2="1711.15" stroke="#bcc3ce" stroke-width="0.8"/>
<line x1="513.2" y1="1750.42" x2="628" y2="1750.42" stroke="#bcc3ce" stroke-width="0.8"/>
<line x1="513.2" y1="1789.69" x2="628" y2="1789.69" stroke="#bcc3ce" stroke-width="0.8"/>
<line x1="513.2" y1="1828.96" x2="628" y2="1828.96" stroke="#bcc3ce" stroke-width="0.8"/>
<line x1="513.2" y1="1868.23" x2="628" y2="1868.23" stroke="#bcc3ce" stroke-width="0.8"/>
<line x1="513.2" y1="1907.5" x2="628" y2="1907.5" stroke="#bcc3ce" stroke-width="0.8"/>
<line x1="513.2" y1="1514.8" x2="628" y2="1514.8" stroke="#000" stroke-width="3.6"/>
<line x1="513.2" y1="1947.77" x2="628" y2="1947.77" stroke="#000" stroke-width="3.6"/>
<text transform="translate(513.97 1547.1) scale(0.834 1)" font-size="26" fill="#0a0a0a">DHRS3</text>
<text transform="translate(513.8 1586.37) scale(0.913 1)" font-size="26" fill="#0a0a0a">MYO1B</text>
<text transform="translate(513.82 1625.64) scale(0.905 1)" font-size="26" fill="#0a0a0a">KIAA1549</text>
<text transform="translate(513.95 1664.91) scale(0.840 1)" font-size="26" fill="#0a0a0a">RIPOR1</text>
<text transform="translate(514.05 1704.18) scale(0.918 1)" font-size="26" fill="#0a0a0a">ICAM1</text>
<text transform="translate(515.7 1743.45) scale(0.778 1)" font-size="26" fill="#0a0a0a">ACSS1</text>
<text transform="translate(514.41 1782.72) scale(0.858 1)" font-size="26" fill="#0a0a0a">NEDD4L</text>
<text transform="translate(514.39 1821.99) scale(0.871 1)" font-size="26" fill="#0a0a0a">BNIP3</text>
<text transform="translate(514.44 1861.26) scale(0.847 1)" font-size="26" fill="#0a0a0a">NCF1B</text>
<text transform="translate(514.37 1900.53) scale(0.882 1)" font-size="26" fill="#0a0a0a">P4HA1</text>
<text transform="translate(514.43 1939.8) scale(0.849 1)" font-size="26" fill="#0a0a0a">PPFIA4</text>
<text transform="translate(531.04 1503.3) scale(0.983 1.05)" font-size="29.5" font-weight="bold" fill="#0a0a0a">down</text>
</g>
<g id="panelD">
<text transform="translate(836.03 684.8)" font-size="44.23" font-weight="bold" fill="#1a1a1a">D</text>
<text transform="translate(950.17 771) scale(1.000 1.020)" font-size="34.23" font-weight="bold" fill="#000">HL60</text>
<line x1="1013.8" y1="818.7" x2="1013.8" y2="1135.7" stroke="#000" stroke-width="2.2"/>
<line x1="1008.4" y1="1134.6" x2="1485" y2="1134.6" stroke="#000" stroke-width="2.2"/>
<line x1="1008.4" y1="1134.6" x2="1013.8" y2="1134.6" stroke="#000" stroke-width="2.2"/>
<text transform="translate(987.82 1145.6) scale(1.000 1.040)" font-size="32.2" font-weight="bold" fill="#000">0</text>
<line x1="1008.4" y1="1029.67" x2="1013.8" y2="1029.67" stroke="#000" stroke-width="2.2"/>
<text transform="translate(952.07 1040.67) scale(1.000 1.040)" font-size="32.2" font-weight="bold" fill="#000">200</text>
<line x1="1008.4" y1="924.73" x2="1013.8" y2="924.73" stroke="#000" stroke-width="2.2"/>
<text transform="translate(952.07 935.73) scale(1.000 1.040)" font-size="32.2" font-weight="bold" fill="#000">400</text>
<line x1="1008.4" y1="819.8" x2="1013.8" y2="819.8" stroke="#000" stroke-width="2.2"/>
<text transform="translate(952.07 830.8) scale(1.000 1.040)" font-size="32.2" font-weight="bold" fill="#000">600</text>
<line x1="1072.7" y1="1134.6" x2="1072.7" y2="1140.4" stroke="#000" stroke-width="2.2"/>
<text transform="translate(1064.04 1171.6) scale(1.000 1.020)" font-size="31.2" font-weight="bold" fill="#000">0</text>
<line x1="1190.5" y1="1134.6" x2="1190.5" y2="1140.4" stroke="#000" stroke-width="2.2"/>
<text transform="translate(1172.72 1171.6) scale(1.000 1.020)" font-size="31.2" font-weight="bold" fill="#000">24</text>
<line x1="1308.5" y1="1134.6" x2="1308.5" y2="1140.4" stroke="#000" stroke-width="2.2"/>
<text transform="translate(1291.42 1171.6) scale(1.000 1.020)" font-size="31.2" font-weight="bold" fill="#000">48</text>
<line x1="1426.6" y1="1134.6" x2="1426.6" y2="1140.4" stroke="#000" stroke-width="2.2"/>
<text transform="translate(1409.28 1171.6) scale(1.000 1.020)" font-size="31.2" font-weight="bold" fill="#000">72</text>
<text transform="translate(1191.48 1211.2) scale(1.000 1.020)" font-size="31.63" font-weight="bold" fill="#000">Time</text>
<text transform="translate(1273.39 1211.2) scale(1.000 1.020)" font-size="31.55" fill="#000">[h]</text>
<text transform="translate(892 1058.26) rotate(-90) scale(1.000 1.035)" font-size="31.61" font-weight="bold" fill="#000">Cell viability</text>
<text transform="translate(929.5 1058.21) rotate(-90) scale(1.000 1.035)" font-size="31.61" fill="#000">[% of control]</text>
<polyline points="1072.7,1082.13 1190.5,1027.57 1308.5,928.93 1426.6,881.71" fill="none" stroke="#b4b4b7" stroke-width="3.2" stroke-linejoin="round"/>
<line x1="1308.5" y1="921.06" x2="1308.5" y2="936.8" stroke="#000" stroke-width="2"/>
<line x1="1302" y1="921.06" x2="1315" y2="921.06" stroke="#000" stroke-width="2"/>
<line x1="1302" y1="936.8" x2="1315" y2="936.8" stroke="#000" stroke-width="2"/>
<line x1="1426.6" y1="868.07" x2="1426.6" y2="895.35" stroke="#000" stroke-width="2"/>
<line x1="1420.1" y1="868.07" x2="1433.1" y2="868.07" stroke="#000" stroke-width="2"/>
<line x1="1420.1" y1="895.35" x2="1433.1" y2="895.35" stroke="#000" stroke-width="2"/>
<circle cx="1072.7" cy="1082.13" r="6.6" fill="#b4b4b7"/>
<circle cx="1190.5" cy="1027.57" r="6.6" fill="#b4b4b7"/>
<circle cx="1308.5" cy="928.93" r="6.6" fill="#b4b4b7"/>
<circle cx="1426.6" cy="881.71" r="6.6" fill="#b4b4b7"/>
<polyline points="1072.7,1082.13 1190.5,1054.85 1308.5,1005.79 1426.6,943.36" fill="none" stroke="#2c3286" stroke-width="3.2" stroke-linejoin="round"/>
<line x1="1190.5" y1="1044.36" x2="1190.5" y2="1065.34" stroke="#000" stroke-width="2"/>
<line x1="1184" y1="1044.36" x2="1197" y2="1044.36" stroke="#000" stroke-width="2"/>
<line x1="1184" y1="1065.34" x2="1197" y2="1065.34" stroke="#000" stroke-width="2"/>
<line x1="1308.5" y1="988.48" x2="1308.5" y2="1023.11" stroke="#000" stroke-width="2"/>
<line x1="1302" y1="988.48" x2="1315" y2="988.48" stroke="#000" stroke-width="2"/>
<line x1="1302" y1="1023.11" x2="1315" y2="1023.11" stroke="#000" stroke-width="2"/>
<line x1="1426.6" y1="923.42" x2="1426.6" y2="963.3" stroke="#000" stroke-width="2"/>
<line x1="1420.1" y1="923.42" x2="1433.1" y2="923.42" stroke="#000" stroke-width="2"/>
<line x1="1420.1" y1="963.3" x2="1433.1" y2="963.3" stroke="#000" stroke-width="2"/>
<rect x="1066.4" y="1075.83" width="12.6" height="12.6" fill="#2c3286"/>
<rect x="1184.2" y="1048.55" width="12.6" height="12.6" fill="#2c3286"/>
<rect x="1302.2" y="999.49" width="12.6" height="12.6" fill="#2c3286"/>
<rect x="1420.3" y="937.06" width="12.6" height="12.6" fill="#2c3286"/>
<circle cx="1072.7" cy="1082.13" r="5.6" fill="#b3b3b3" opacity="0.9"/>
<text transform="translate(1297.67 916.8)" font-size="54" font-weight="bold" fill="#000">*</text>
<text transform="translate(1410.71 847.8)" font-size="31.6" font-weight="bold" font-style="italic" fill="#000">ns</text>
<line x1="1441.5" y1="1025.2" x2="1461" y2="1025.2" stroke="#b4b4b7" stroke-width="3.2" stroke-linecap="round"/>
<circle cx="1451" cy="1025.2" r="6.6" fill="#b4b4b7"/>
<text transform="translate(1471.13 1035.8) scale(1.000 1.020)" font-size="31.82" font-weight="bold" fill="#000">MALNC-WT (n=3)</text>
<line x1="1441.5" y1="1070.2" x2="1461" y2="1070.2" stroke="#2c3286" stroke-width="3.2" stroke-linecap="round"/>
<rect x="1444.7" y="1063.9" width="12.6" height="12.6" fill="#2c3286"/>
<text transform="translate(1471.13 1080.8) scale(1.000 1.020)" font-size="31.81" font-weight="bold" fill="#000">MALNC-KO (n=3)</text>
</g>
<g id="panelE">
<text transform="translate(836.96 1312.2) scale(0.964 1.000)" font-size="44" font-weight="bold" fill="#1a1a1a">E</text>
<text transform="translate(974.59 1380.9) scale(1.000 1.100)" font-size="27.82" font-weight="bold" fill="#000">HL60</text>
<line x1="1069" y1="1428.6" x2="1069" y2="1726.2" stroke="#000" stroke-width="3"/>
<line x1="1056" y1="1724.7" x2="1069" y2="1724.7" stroke="#000" stroke-width="3"/>
<text transform="translate(1033.42 1736.1) scale(1.000 1.070)" font-size="32.2" font-weight="bold" fill="#000">0</text>
<line x1="1056" y1="1626.5" x2="1069" y2="1626.5" stroke="#000" stroke-width="3"/>
<text transform="translate(1015.55 1637.9) scale(1.000 1.070)" font-size="32.2" font-weight="bold" fill="#000">50</text>
<line x1="1056" y1="1528.3" x2="1069" y2="1528.3" stroke="#000" stroke-width="3"/>
<text transform="translate(997.67 1539.7) scale(1.000 1.070)" font-size="32.2" font-weight="bold" fill="#000">100</text>
<line x1="1056" y1="1430.1" x2="1069" y2="1430.1" stroke="#000" stroke-width="3"/>
<text transform="translate(997.67 1441.5) scale(1.000 1.070)" font-size="32.2" font-weight="bold" fill="#000">150</text>
<line x1="1124.2" y1="1520.44" x2="1124.2" y2="1529.3" stroke="#000" stroke-width="2.8"/>
<line x1="1110.8" y1="1520.44" x2="1137.6" y2="1520.44" stroke="#000" stroke-width="2.8" stroke-linecap="round"/>
<line x1="1208.1" y1="1582.51" x2="1208.1" y2="1599.61" stroke="#000" stroke-width="2.8"/>
<line x1="1194.7" y1="1582.51" x2="1221.5" y2="1582.51" stroke="#000" stroke-width="2.8" stroke-linecap="round"/>
<rect x="1096.6" y="1528.3" width="55.2" height="196.4" fill="#b1b0b4"/>
<rect x="1180.5" y="1598.61" width="55.2" height="126.09" fill="#2d3287"/>
<line x1="1056" y1="1724.7" x2="1265" y2="1724.7" stroke="#000" stroke-width="3"/>
<line x1="1124.2" y1="1724.7" x2="1124.2" y2="1736.2" stroke="#000" stroke-width="3"/>
<line x1="1208.1" y1="1724.7" x2="1208.1" y2="1736.2" stroke="#000" stroke-width="3"/>
<path d="M1124.2 1503.24 V1485.8 H1208.1 V1566.01" fill="none" stroke="#000" stroke-width="3" stroke-linecap="round" stroke-linejoin="miter"/>
<text transform="translate(1156.01 1490.6)" font-size="52" font-weight="bold" fill="#000">*</text>
<text transform="translate(1131.8 1762.6) rotate(-45) scale(1.000 1.040)" font-size="32.4" font-weight="bold" text-anchor="end" fill="#000" stroke="#000" stroke-width="0.3">MALNC-WT (n=3)</text>
<text transform="translate(1215.7 1762.6) rotate(-45) scale(1.000 1.040)" font-size="32.4" font-weight="bold" text-anchor="end" fill="#000" stroke="#000" stroke-width="0.3">MALNC-KO (n=3)</text>
<text transform="translate(943.8 1703.28) rotate(-90) scale(1.000 1.035)" font-size="31.93" font-weight="bold" fill="#000">Colony formation</text>
<text transform="translate(979.4 1641.94) rotate(-90) scale(1.000 1.035)" font-size="32.01" fill="#000">[% of WT]</text>
<text transform="translate(1357.62 1380.9) scale(1.000 1.100)" font-size="27.46" font-weight="bold" fill="#000">NB4</text>
<line x1="1470.1" y1="1428.6" x2="1470.1" y2="1726.2" stroke="#000" stroke-width="3"/>
<line x1="1457.1" y1="1724.7" x2="1470.1" y2="1724.7" stroke="#000" stroke-width="3"/>
<text transform="translate(1434.52 1736.1) scale(1.000 1.070)" font-size="32.2" font-weight="bold" fill="#000">0</text>
<line x1="1457.1" y1="1626.5" x2="1470.1" y2="1626.5" stroke="#000" stroke-width="3"/>
<text transform="translate(1416.65 1637.9) scale(1.000 1.070)" font-size="32.2" font-weight="bold" fill="#000">50</text>
<line x1="1457.1" y1="1528.3" x2="1470.1" y2="1528.3" stroke="#000" stroke-width="3"/>
<text transform="translate(1398.77 1539.7) scale(1.000 1.070)" font-size="32.2" font-weight="bold" fill="#000">100</text>
<line x1="1457.1" y1="1430.1" x2="1470.1" y2="1430.1" stroke="#000" stroke-width="3"/>
<text transform="translate(1398.77 1441.5) scale(1.000 1.070)" font-size="32.2" font-weight="bold" fill="#000">150</text>
<line x1="1525.3" y1="1503.75" x2="1525.3" y2="1529.3" stroke="#000" stroke-width="2.8"/>
<line x1="1511.9" y1="1503.75" x2="1538.7" y2="1503.75" stroke="#000" stroke-width="2.8" stroke-linecap="round"/>
<line x1="1609.2" y1="1597.24" x2="1609.2" y2="1611.2" stroke="#000" stroke-width="2.8"/>
<line x1="1595.8" y1="1597.24" x2="1622.6" y2="1597.24" stroke="#000" stroke-width="2.8" stroke-linecap="round"/>
<rect x="1497.7" y="1528.3" width="55.2" height="196.4" fill="#b1b0b4"/>
<rect x="1581.6" y="1610.2" width="55.2" height="114.5" fill="#2d3287"/>
<line x1="1457.1" y1="1724.7" x2="1666.1" y2="1724.7" stroke="#000" stroke-width="3"/>
<line x1="1525.3" y1="1724.7" x2="1525.3" y2="1736.2" stroke="#000" stroke-width="3"/>
<line x1="1609.2" y1="1724.7" x2="1609.2" y2="1736.2" stroke="#000" stroke-width="3"/>
<path d="M1525.3 1486.25 V1468.8 H1609.2 V1580.74" fill="none" stroke="#000" stroke-width="3" stroke-linecap="round" stroke-linejoin="miter"/>
<text transform="translate(1557.11 1473.3)" font-size="52" font-weight="bold" fill="#000">*</text>
<text transform="translate(1532.9 1762.6) rotate(-45) scale(1.000 1.040)" font-size="32.4" font-weight="bold" text-anchor="end" fill="#000" stroke="#000" stroke-width="0.3">MALNC-WT (n=3)</text>
<text transform="translate(1616.8 1762.6) rotate(-45) scale(1.000 1.040)" font-size="32.4" font-weight="bold" text-anchor="end" fill="#000" stroke="#000" stroke-width="0.3">MALNC-KO (n=3)</text>
<text transform="translate(1344.9 1703.28) rotate(-90) scale(1.000 1.035)" font-size="31.93" font-weight="bold" fill="#000">Colony formation</text>
<text transform="translate(1380.5 1641.94) rotate(-90) scale(1.000 1.035)" font-size="32.01" fill="#000">[% of WT]</text>
</g>
</svg>
</body>
</html>
